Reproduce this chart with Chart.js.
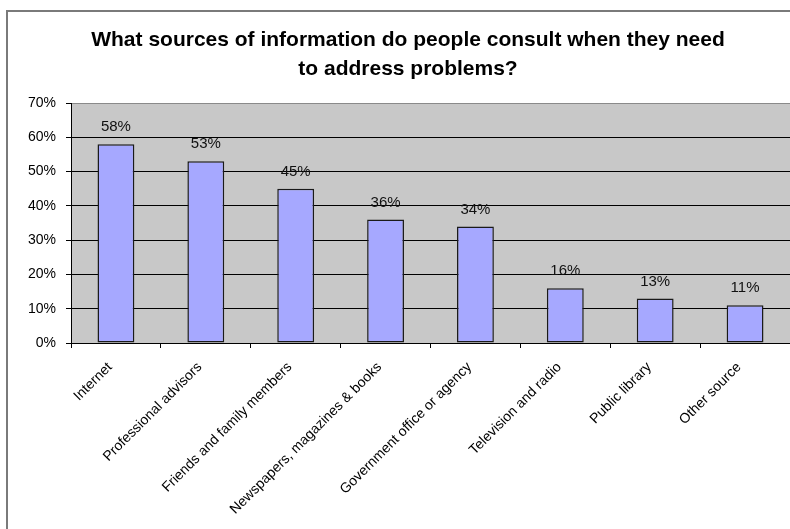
<!DOCTYPE html>
<html>
<head>
<meta charset="utf-8">
<script src="https://cdn.jsdelivr.net/npm/chart.js@4"></script>
<style>
  html, body { margin: 0; padding: 0; background: #fff; }
  #wrap { width: 790px; height: 529px; }
</style>
</head>
<body>
<div id="wrap"><canvas id="chart"></canvas></div>
<script>
const categories = [
  "Internet",
  "Professional advisors",
  "Friends and family members",
  "Newspapers, magazines & books",
  "Government office or agency",
  "Television and radio",
  "Public library",
  "Other source"
];
const shares = [58, 53, 45, 36, 34, 16, 13, 11];
const titleLines = [
  "What sources of information do people consult when they need",
  "to address problems?"
];

const FONT = "'Liberation Sans', Arial, sans-serif";

// grey plot area, outer frame and the title (centred on the frame, not the canvas)
const backdrop = {
  id: "backdrop",
  beforeDraw(chart) {
    const { ctx, chartArea: a } = chart;
    ctx.save();
    ctx.fillStyle = "#c8c8c8";
    ctx.fillRect(a.left, a.top, a.right - a.left, a.bottom - a.top);
    ctx.strokeStyle = "#7a7a7a";
    ctx.lineWidth = 2;
    ctx.strokeRect(7, 11, 800, 600);

    ctx.fillStyle = "#000";
    ctx.font = "bold 21px " + FONT;
    ctx.textAlign = "center";
    ctx.textBaseline = "alphabetic";
    titleLines.forEach((line, i) => ctx.fillText(line, 408, 46 + i * 29));
    ctx.restore();
  }
};

// percentage labels above each bar
const valueLabels = {
  id: "valueLabels",
  afterDatasetsDraw(chart) {
    const { ctx } = chart;
    const meta = chart.getDatasetMeta(0);
    ctx.save();
    ctx.font = "15px " + FONT;
    ctx.fillStyle = "#111";
    ctx.textAlign = "center";
    ctx.textBaseline = "middle";
    meta.data.forEach((bar, i) => {
      ctx.fillText(shares[i] + "%", bar.x, bar.y - 17);
    });
    ctx.restore();
  }
};

new Chart(document.getElementById("chart"), {
  type: "bar",
  data: {
    labels: categories,
    datasets: [{
      data: shares,
      backgroundColor: "#a6a8ff",
      borderColor: "#1a1a1a",
      borderWidth: 1.5,
      borderSkipped: false,
      categoryPercentage: 1,
      barPercentage: 0.41
    }]
  },
  options: {
    responsive: true,
    maintainAspectRatio: false,
    animation: false,
    events: [],
    layout: { padding: { top: 103, left: 0, right: 0, bottom: 0 } },
    plugins: {
      legend: { display: false },
      tooltip: { enabled: false },
      title: { display: false }
    },
    scales: {
      x: {
        grid: {
          offset: true,
          drawOnChartArea: false,
          drawTicks: true,
          tickLength: 5,
          tickColor: "#000"
        },
        border: { color: "#000", width: 1 },
        ticks: {
          color: "#000",
          font: { family: FONT, size: 14 },
          maxRotation: 45,
          minRotation: 45,
          padding: 11,
          labelOffset: -6
        },
        afterFit(scale) { scale.height = 186; }
      },
      y: {
        min: 0,
        max: 70,
        ticks: {
          stepSize: 10,
          color: "#000",
          font: { family: FONT, size: 14 },
          padding: 10,
          callback: v => v + "%"
        },
        grid: {
          color: c => (c.tick && c.tick.value === 70) ? "#8a8a8a" : "#000",
          tickColor: "#000",
          tickLength: 5,
          lineWidth: 1
        },
        border: { color: "#000", width: 1 },
        afterFit(scale) { scale.width = 71; }
      }
    }
  },
  plugins: [backdrop, valueLabels]
});
</script>
</body>
</html>
